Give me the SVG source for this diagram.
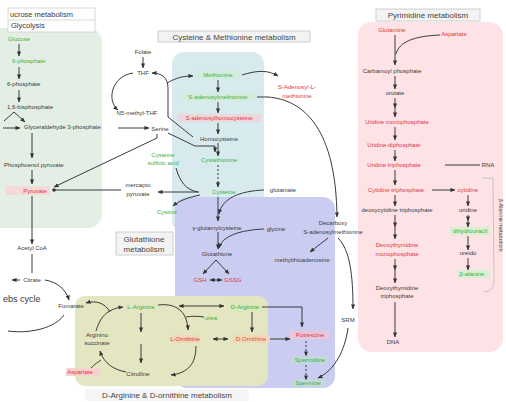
<svg xmlns="http://www.w3.org/2000/svg" width="506" height="402" viewBox="0 0 506 402">
<style>
text{font-family:"Liberation Sans",Arial,sans-serif;font-size:6px;fill:#3a3a3a;text-anchor:middle}
.r{fill:#e0353d}.g{fill:#3fae3f}.o{fill:#e0532a}
.ttl{font-size:8px;fill:#444}
.c{fill:none;stroke:#3a3a3a;stroke-width:1}
.ca{fill:none;stroke:#3a3a3a;stroke-width:1;marker-end:url(#a)}
.cd{fill:none;stroke:#3a3a3a;stroke-width:1;stroke-dasharray:2 2;marker-end:url(#a)}
.tb{fill:#f3f3f3;stroke:#c4c4c4;stroke-width:0.8}
</style>
<defs>
<marker id="a" viewBox="0 0 6 6" refX="5.5" refY="3" markerWidth="5" markerHeight="5" orient="auto-start-reverse" markerUnits="userSpaceOnUse"><path d="M0,0.5 L6,3 L0,5.5z" fill="#333"/></marker>
<marker id="dot" viewBox="0 0 4 4" refX="2" refY="2" markerWidth="3.5" markerHeight="3.5" markerUnits="userSpaceOnUse"><circle cx="2" cy="2" r="2" fill="#333"/></marker>
</defs>
<rect width="506" height="402" fill="#fff"/>

<!-- backgrounds -->
<g id="bg-glycolysis"><rect x="-12" y="28" width="114" height="200" rx="14" fill="#e3eee4"/></g>
<g id="bg-cysteine"><rect x="172" y="52" width="92" height="180" rx="12" fill="#d7ebef"/></g>
<g id="bg-glutathione"><rect x="175" y="197" width="160" height="191" rx="12" fill="#cacdf1"/></g>
<g id="bg-arginine"><rect x="75" y="296" width="193" height="90" rx="10" fill="#e4e6c1"/></g>
<g id="bg-pyrimidine"><rect x="358" y="22" width="145" height="330" rx="14" fill="#fde3e5"/></g>

<!-- titles -->
<g id="title-glycolysis">
<rect x="8" y="8" width="87" height="24" fill="#fff" stroke="#d0d0d0" stroke-width="0.8"/>
<line x1="8" y1="20" x2="95" y2="20" stroke="#d0d0d0" stroke-width="0.8"/>
<text x="10" y="16.5" style="text-anchor:start;font-size:7.5px">ucrose metabolism</text>
<text x="11" y="28" style="text-anchor:start;font-size:7.5px">Glycolysis</text>
</g>
<g id="title-cysteine"><rect class="tb" x="158" y="31" width="152" height="11"/><text class="ttl" x="234" y="39.5">Cysteine &amp; Methionine metabolism</text></g>
<g id="title-pyrimidine"><rect class="tb" x="376" y="9" width="104" height="12"/><text class="ttl" x="428" y="18">Pyrimidine metabolism</text></g>
<g id="title-glutathione"><rect class="tb" x="116" y="232" width="57" height="23"/><text class="ttl" x="144" y="241.5">Glutathione</text><text class="ttl" x="144" y="252">metabolism</text></g>
<g id="title-arginine"><rect x="85" y="389" width="164" height="12" fill="#f5f5f5"/><text class="ttl" x="167" y="398">D-Arginine &amp; D-ornithine metabolism</text></g>

<!-- glycolysis nodes -->
<g id="n-glucose"><text class="g" x="8" y="41" style="text-anchor:start">Glucose</text></g>
<g id="n-g6p"><text class="g" x="12" y="63" style="text-anchor:start">6-phosphate</text></g>
<g id="n-f6p"><text x="7" y="86" style="text-anchor:start">6-phosphate</text></g>
<g id="n-f16bp"><text x="7" y="109" style="text-anchor:start">1,6-bisphosphate</text></g>
<g id="n-g3p"><text x="24" y="129" style="text-anchor:start">Glyceraldehyde 3-phosphate</text></g>
<g id="n-pep"><text x="4" y="167" style="text-anchor:start">Phosphoenol pyruvate</text></g>
<g id="n-pyruvate"><rect x="6" y="186" width="44" height="9" fill="#f7d3d6" opacity="0.8"/><text class="r" x="35" y="192.5">Pyruvate</text></g>
<g id="n-acetylcoa"><text x="32" y="250">Acetyl CoA</text></g>
<g id="n-citrate"><text x="32" y="282">Citrate</text></g>
<g id="n-krebs"><text x="3" y="302" style="text-anchor:start;font-size:9px">ebs cycle</text></g>
<g id="n-fumarate"><text x="71" y="308">Fumarate</text></g>

<!-- folate -->
<g id="n-folate"><text x="143" y="54">Folate</text></g>
<g id="n-thf"><text x="143" y="74.5">THF</text></g>
<g id="n-mthf"><text x="137" y="115">N5-methyl-THF</text></g>
<g id="n-serine"><text x="160" y="131">Serine</text></g>

<!-- cysteine & methionine -->
<g id="n-met"><rect x="196" y="71" width="44" height="8" fill="#d3ecd6" opacity="0.7"/><text class="g" x="218" y="77">Methionine</text></g>
<g id="n-sam"><rect x="180" y="93" width="77" height="8" fill="#d3ecd6" opacity="0.7"/><text class="g" x="218" y="99">S-adenosylmethionine</text></g>
<g id="n-sah"><rect x="177" y="114" width="84" height="8" fill="#f3d2d6" opacity="0.8"/><text class="r" x="219" y="120">S-adenosylhomocysteine</text></g>
<g id="n-hcy"><text x="219" y="140.5">Homocysteine</text></g>
<g id="n-cysta"><text class="g" x="219" y="162">Cystathionine</text></g>
<g id="n-cys"><text class="g" x="224" y="194">Cysteine</text></g>
<g id="n-csa"><text class="g" x="163" y="157">Cysteine</text><text class="g" x="163" y="165">sulfinic acid</text></g>
<g id="n-mp"><text x="138" y="187">mercapto</text><text x="138" y="196">pyruvate</text></g>
<g id="n-cystine"><text class="g" x="167" y="214">Cystine</text></g>
<g id="n-sam2"><text class="r" x="297" y="89">S-Adenosyl-L-</text><text class="r" x="297" y="98">methionine</text></g>

<!-- glutathione -->
<g id="n-glu"><text x="283" y="192">glutamate</text></g>
<g id="n-ggc"><text x="217" y="229.5">γ-glutamylcysteine</text></g>
<g id="n-gly"><text x="276" y="231">glycine</text></g>
<g id="n-gsh"><text x="217" y="256">Glutathione</text></g>
<g id="n-gshgssg"><text class="r" x="200" y="282">GSH</text><text class="r" x="233" y="282">GSSG</text></g>
<g id="n-dcsam"><text x="333" y="225">Decarboxy</text><text x="333" y="234">S-adenosylmethionine</text></g>
<g id="n-mta"><text x="302" y="262">methylthioadenosine</text></g>
<g id="n-srm"><text x="348" y="322">SRM</text></g>
<g id="n-put"><rect x="290" y="331" width="40" height="8" fill="#efc6d6" opacity="0.8"/><text class="r" x="310" y="337">Putrescine</text></g>
<g id="n-spd"><rect x="292" y="356" width="36" height="8" fill="#c2dcd0" opacity="0.7"/><text class="g" x="310" y="362">Spermidine</text></g>
<g id="n-spm"><rect x="292" y="379" width="33" height="8" fill="#c2dcd0" opacity="0.7"/><text class="g" x="308" y="385">Spermine</text></g>

<!-- arginine -->
<g id="n-larg"><text class="g" x="141" y="309">L-Arginine</text></g>
<g id="n-asuc"><text x="97" y="337">Arginino</text><text x="97" y="345">succinate</text></g>
<g id="n-asp"><rect x="66" y="368" width="34" height="8" fill="#f5cfd2" opacity="0.9"/><text class="r" x="80" y="374">Aspartate</text></g>
<g id="n-citr"><text x="138" y="376">Citrulline</text></g>
<g id="n-urea"><text class="g" x="211" y="319.5">urea</text></g>
<g id="n-lorn"><rect x="171" y="335" width="29" height="8" fill="#f3d4b8" opacity="0.8"/><text class="r" x="185" y="341">L-Ornithine</text></g>
<g id="n-darg"><rect x="229" y="303" width="33" height="8" fill="#d8e8b8" opacity="0.8"/><text class="g" x="245" y="309">D-Arginine</text></g>
<g id="n-dorn"><rect x="233" y="335" width="37" height="8" fill="#f3d4b8" opacity="0.8"/><text class="o" x="251" y="341">D-Ornithine</text></g>

<!-- pyrimidine -->
<g id="n-gln"><text class="r" x="392" y="32">Glutamine</text></g>
<g id="n-asp2"><text class="r" x="454" y="36">Aspartate</text></g>
<g id="n-cp"><text x="392" y="73">Carbamoyl phosphate</text></g>
<g id="n-oro"><text x="395" y="95">orotate</text></g>
<g id="n-ump"><text class="r" x="397" y="124">Uridine monophosphate</text></g>
<g id="n-udp"><text class="r" x="394" y="147">Uridine diphosphate</text></g>
<g id="n-utp"><text class="r" x="394" y="167">Uridine triphosphate</text></g>
<g id="n-rna"><text x="488" y="167">RNA</text></g>
<g id="n-ctp"><text class="r" x="396" y="192">Cytidine triphosphate</text></g>
<g id="n-cyd"><text class="r" x="468" y="192">cytidine</text></g>
<g id="n-dctp"><text x="397" y="212">deoxycytidine triphosphate</text></g>
<g id="n-urd"><text x="468" y="212">uridine</text></g>
<g id="n-dhu"><rect x="450" y="227" width="40" height="8" fill="#d9efcf"/><text class="g" x="470" y="233">dihydrouracil</text></g>
<g id="n-dtmp"><text class="r" x="397" y="247">Deoxythymidine</text><text class="r" x="397" y="256">monophosphate</text></g>
<g id="n-ureido"><text x="468" y="255">ureido</text></g>
<g id="n-bala"><rect x="457" y="270" width="33" height="8" fill="#d9efcf"/><text class="g" x="472" y="276">β-alanine</text></g>
<g id="n-dttp"><text x="397" y="290">Deoxythymidine</text><text x="397" y="298">triphosphate</text></g>
<g id="n-dna"><text x="393" y="344">DNA</text></g>
<g id="n-bala-title"><path d="M482,178 L493,178 L494,282 Q494,291 484,292" fill="none" stroke="#bbb" stroke-width="0.8"/><text x="499" y="225" transform="rotate(90 499 225)" style="font-size:5.5px">β-Alanine metabolism</text></g>

<!-- connectors -->
<g id="connectors">
<path class="ca" d="M19,44 V56"/>
<path class="ca" d="M19,67 V79"/>
<path class="ca" d="M19,90 V102"/>
<path class="c" d="M14,112 L4,121"/>
<path class="ca" d="M14,112 L25,122"/>
<path class="ca" d="M3,128 H20"/>
<path class="ca" d="M32,133 V158"/>
<path class="ca" d="M32,170 V184"/>
<path class="ca" d="M32,196 V244"/>
<path class="c" d="M32,254 V273"/>
<path class="ca" d="M20,280 H12"/>
<path class="ca" d="M45,280 C58,282 66,290 69,300"/>
<path class="c" d="M64,315 C55,328 30,334 8,331"/>
<path class="ca" d="M118,128 H149"/>
<path class="ca" d="M157,134 V138 L54,187"/>
<path class="c" d="M121,190 H54" marker-end="url(#dot)"/>
<path class="ca" d="M143,57 V68"/>
<path class="ca" d="M133,73 C112,76 106,100 118,110"/>
<path class="ca" d="M193,137 L168,117 V88 C168,78 162,73 152,73"/>
<path class="ca" d="M167,83 C176,78 182,76 193,76"/>
<path class="ca" d="M168,133 L195,146 H215 V152"/>
<path class="ca" d="M218,80 V92"/>
<path class="ca" d="M218,102 V113"/>
<path class="ca" d="M218,123 V134"/>
<path class="ca" d="M218,143 V156"/>
<path class="cd" d="M218,165 V187"/>
<path class="c" d="M176,168 C180,182 186,190 198,192"/>
<path class="ca" d="M199,192 H158"/>
<path class="ca" d="M200,195 C190,197 180,200 173,206"/>
<path class="ca" d="M242,75 C258,70 268,70 278,76"/>
<path class="ca" d="M257,97 H268 C305,100 336,130 337,217"/>
<path class="ca" d="M218,197 V221"/>
<path class="ca" d="M264,190 C240,191 222,198 219,214"/>
<path class="ca" d="M218,232 V249"/>
<path class="ca" d="M264,229 C240,230 222,236 219,248"/>
<path class="ca" d="M216,260 L203,274"/>
<path class="ca" d="M216,260 L229,274"/>
<path class="ca" d="M210,280 H222" marker-start="url(#a)"/>
<path class="ca" d="M328,238 L310,252"/>
<path class="ca" d="M338,238 C350,250 353,275 353,309"/>
<path class="ca" d="M348,328 C345,350 335,370 318,378"/>
<path class="cd" d="M306,341 V356"/>
<path class="cd" d="M306,365 V380"/>
<path class="ca" d="M262,307 H302 V327"/>
<path class="ca" d="M270,339 H290"/>
<path class="ca" d="M96,331 C100,318 106,309 123,307"/>
<path class="ca" d="M110,312 C105,303 96,300 86,303"/>
<path class="ca" d="M126,372 C115,370 104,364 100,351"/>
<path class="c" d="M91,368 C95,364 98,362 101,360"/>
<path class="ca" d="M141,313 V332"/>
<path class="ca" d="M141,344 V363"/>
<path class="ca" d="M179,306 H224" marker-start="url(#a)"/>
<path class="ca" d="M158,305 C175,303 187,310 188,330"/>
<path class="c" d="M186,317 C192,316 197,316 204,317"/>
<path class="ca" d="M196,346 C196,364 188,373 171,375"/>
<path class="ca" d="M213,339 H228" marker-start="url(#a)"/>
<path class="ca" d="M252,312 V332"/>
<path class="ca" d="M395,35 V65"/>
<path class="c" d="M440,35 C414,36 399,42 396,54"/>
<path class="ca" d="M395,76 V89"/>
<path class="ca" d="M395,98 V108"/>
<path class="ca" d="M395,108 V117"/>
<path class="ca" d="M395,127 V140"/>
<path class="ca" d="M395,150 V161"/>
<path class="c" d="M445,165 H480"/>
<path class="ca" d="M395,170 V185"/>
<path class="ca" d="M432,190 H455"/>
<path class="ca" d="M395,195 V206"/>
<path class="ca" d="M395,215 V227"/>
<path class="ca" d="M395,227 V239"/>
<path class="ca" d="M395,259 V270"/>
<path class="ca" d="M395,270 V283"/>
<path class="ca" d="M395,302 V337"/>
<path class="ca" d="M468,195 V206"/>
<path class="ca" d="M468,215 V221"/>
<path class="ca" d="M468,221 V227"/>
<path class="ca" d="M468,236 V250"/>
<path class="ca" d="M468,258 V270"/>
</g>
</svg>
